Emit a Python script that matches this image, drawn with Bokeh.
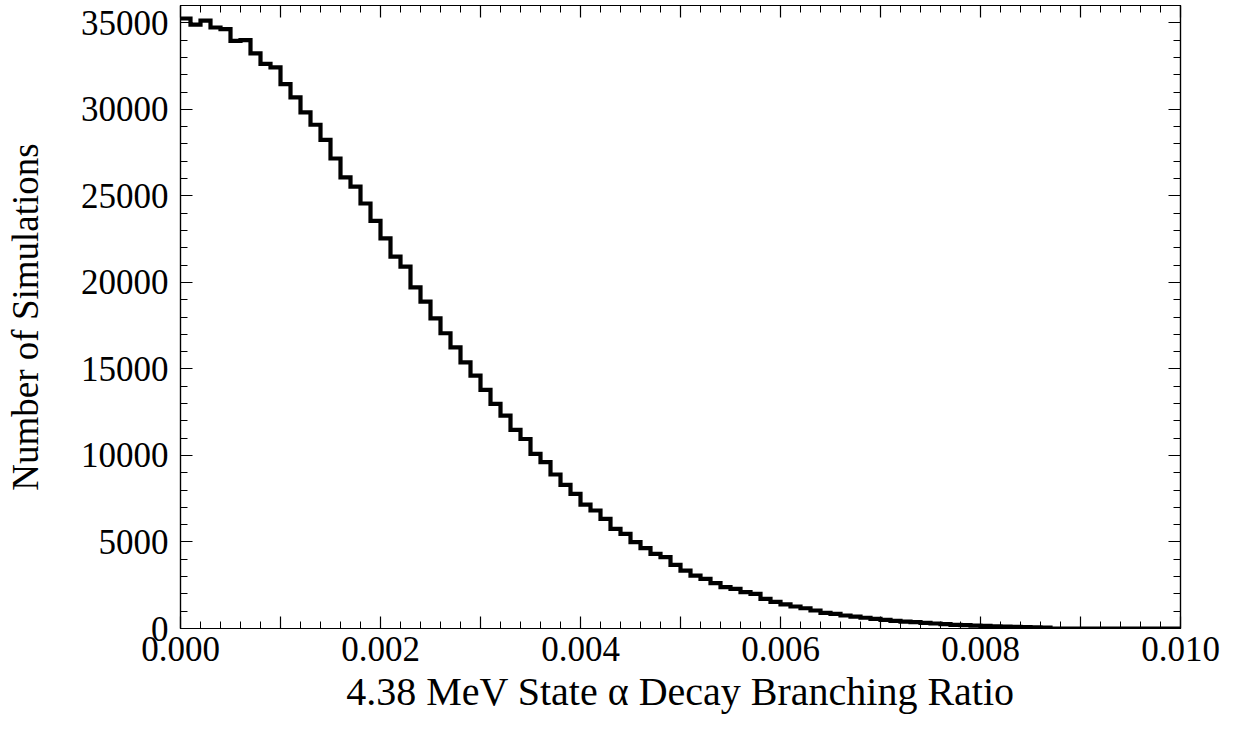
import numpy as np
from bokeh.plotting import figure
from bokeh.models import LinearAxis, FixedTicker, Range1d
from bokeh.embed import file_html
from bokeh.resources import INLINE

# ---- data ----
bin_width = 0.0001
counts = [35250, 34900, 35130, 34730, 34630, 33960, 34000, 33230, 32630, 32420,
          31460, 30690, 29820, 29110, 28240, 27160, 26070, 25530, 24560, 23560,
          22540, 21490, 20910, 19710, 18890, 17920, 17060, 16250, 15380, 14610,
          13790, 12980, 12300, 11480, 10950, 10090, 9610, 8900, 8300, 7780,
          7160, 6820, 6340, 5760, 5470, 4990, 4640, 4310, 4120, 3680,
          3350, 3060, 2870, 2620, 2390, 2290, 2100, 2000, 1710, 1540,
          1390, 1270, 1170, 1040, 900, 850, 750, 690, 620, 560,
          500, 440, 400, 370, 330, 290, 250, 210, 190, 170,
          150, 130, 110, 100, 80, 70, 50, 0, 0, 0,
          0, 0, 0, 0, 0, 0, 0, 0, 0, 0]

x_ticks = [0.000, 0.001, 0.002, 0.003, 0.004, 0.005, 0.006, 0.007, 0.008, 0.009, 0.010]
x_labels = ["0.000", "", "0.002", "", "0.004", "", "0.006", "", "0.008", "", "0.010"]
y_ticks = [0, 5000, 10000, 15000, 20000, 25000, 30000, 35000]
y_labels = ["0", "5000", "10000", "15000", "20000", "25000", "30000", "35000"]

x_title = "4.38 MeV State \u03b1 Decay Branching Ratio"
y_title = "Number of Simulations"

# ---- derived ----
edges = np.arange(len(counts) + 1) * bin_width
yvals = list(counts) + [counts[-1]]
x_minor = list(np.round(np.arange(0, 0.01001, 0.0002), 6))
y_minor = list(range(0, 36001, 1000))

FONT = "Liberation Serif"
TICK_SIZE = "35px"

p = figure(frame_width=1000, frame_height=623,
           x_range=Range1d(0, 0.010), y_range=Range1d(0, 36000),
           output_backend="svg", toolbar_location=None,
           x_axis_location=None, y_axis_location=None,
           min_border_left=180, min_border_right=40,
           min_border_top=5, min_border_bottom=20,
           background_fill_color="white", border_fill_color="white")
p.grid.visible = False
p.outline_line_color = "black"
p.outline_line_width = 1.2

xt = FixedTicker(ticks=x_ticks, minor_ticks=x_minor)
yt = FixedTicker(ticks=y_ticks, minor_ticks=y_minor)


def style(ax, labels):
    ax.axis_line_color = "black"
    ax.axis_line_width = 1.2
    ax.major_tick_line_color = "black"
    ax.minor_tick_line_color = "black"
    ax.major_tick_line_width = 1.2
    ax.minor_tick_line_width = 1.0
    ax.major_tick_in = 12
    ax.major_tick_out = 0
    ax.minor_tick_in = 7
    ax.minor_tick_out = 0
    ax.major_label_text_font = FONT
    ax.axis_label_text_font = FONT
    ax.axis_label_text_font_style = "normal"
    ax.major_label_text_color = "black"
    ax.axis_label_text_color = "black"
    if labels:
        ax.major_label_text_font_size = TICK_SIZE
    else:
        ax.major_label_text_font_size = "0px"
        ax.major_label_standoff = 0
        ax.axis_label_standoff = 0


bottom = LinearAxis(ticker=xt, axis_label=x_title,
                    major_label_overrides={t: l for t, l in zip(x_ticks, x_labels)})
style(bottom, True)
bottom.axis_label_text_font_size = "40px"
bottom.major_label_standoff = 8
bottom.axis_label_standoff = 5
p.add_layout(bottom, "below")

left = LinearAxis(ticker=yt, axis_label=y_title,
                  major_label_overrides={t: l for t, l in zip(y_ticks, y_labels)})
style(left, True)
left.axis_label_text_font_size = "37px"
left.major_label_standoff = 12
left.axis_label_standoff = 32
p.add_layout(left, "left")

top = LinearAxis(ticker=xt, major_label_overrides={t: "" for t in x_ticks})
style(top, False)
p.add_layout(top, "above")

right = LinearAxis(ticker=yt, major_label_overrides={t: "" for t in y_ticks})
style(right, False)
p.add_layout(right, "right")

p.step(x=edges, y=yvals, mode="after", line_color="black", line_width=4.2,
       line_join="miter")

open("out.html", "w").write(file_html(p, INLINE))
